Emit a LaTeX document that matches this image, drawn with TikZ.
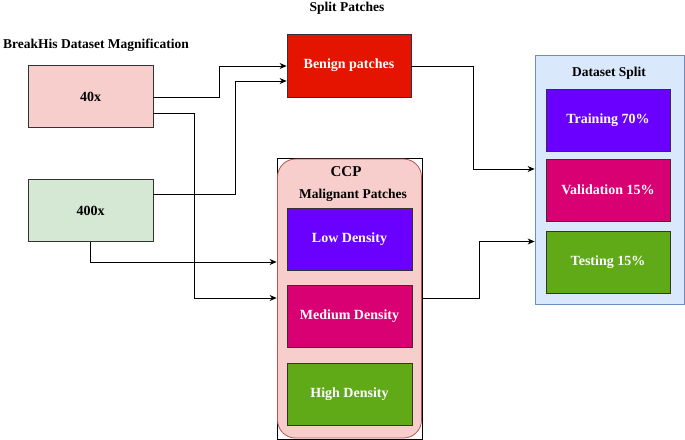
\documentclass[tikz,border=0pt]{standalone}
\usepackage{fontspec}
\setmainfont{Liberation Serif}
\usetikzlibrary{arrows.meta}
\definecolor{pinkfill}{HTML}{F8CECC}
\definecolor{pinkline}{HTML}{B85450}
\definecolor{greenfill}{HTML}{D5E8D4}
\definecolor{redfill}{HTML}{E51400}
\definecolor{purplefill}{HTML}{6A00FF}
\definecolor{magentafill}{HTML}{D80073}
\definecolor{limefill}{HTML}{60A917}
\definecolor{bluefill}{HTML}{DAE8FC}
\definecolor{blueline}{HTML}{6C8EBF}
\definecolor{edgegray}{HTML}{333333}
\tikzset{
  box/.style={draw=edgegray, line width=0.8pt, minimum width=125pt, minimum height=62pt, inner sep=0pt,
    font=\fontsize{14}{16}\selectfont\bfseries},
  wbox/.style={box, text=white},
  title/.style={font=\fontsize{13.5}{16}\selectfont\bfseries, inner sep=0pt},
  arr/.style={draw=black, line width=0.8pt, -{Stealth[length=7pt,width=6pt]}},
  ln/.style={draw=black, line width=0.8pt}
}
\begin{document}
\begin{tikzpicture}[x=1pt,y=-1pt]
\useasboundingbox (0,0) rectangle (685,439);
% titles
\node[title] (tsplit) at (347,8) {Split Patches};
\node[title, anchor=west] (tbreak) at (3,45) {BreakHis Dataset Magnification};
% inputs
\node[box, fill=pinkfill] (n40) at (90.5,96.5) {40x};
\node[box, fill=greenfill] (n400) at (90.5,210.5) {400x};
% benign
\node[wbox, fill=redfill, minimum width=124pt, minimum height=63pt] (benign) at (349,65.5) {Benign patches};
% CCP container
\node[draw=black, line width=0.8pt, minimum width=145pt, minimum height=281pt, inner sep=0pt] (ccpframe) at (349.5,298.5) {};
\node[draw=pinkline, fill=pinkfill, line width=0.8pt, rounded corners=18pt, minimum width=144pt, minimum height=279pt, inner sep=0pt] (ccp) at (349.5,298.5) {};
\node[title, font=\fontsize{15}{17}\selectfont\bfseries] (tccp) at (346,171.5) {CCP};
\node[title] (tmal) at (353,195) {Malignant Patches};
\node[wbox, fill=purplefill] (low) at (349.5,239) {Low Density};
\node[wbox, fill=magentafill] (med) at (349.5,316) {Medium Density};
\node[wbox, fill=limefill] (high) at (349.5,394.5) {High Density};
% Dataset split container
\node[draw=blueline, fill=bluefill, line width=0.8pt, minimum width=149pt, minimum height=249pt, inner sep=0pt] (split) at (609.5,179.5) {};
\node[title] (tds) at (609,73) {Dataset Split};
\node[wbox, fill=purplefill, minimum width=124pt] (train) at (608,120) {Training 70\%};
\node[wbox, fill=magentafill, minimum width=124pt] (val) at (608,190) {Validation 15\%};
\node[wbox, fill=limefill, minimum width=124pt] (test) at (608,262) {Testing 15\%};
% connectors
\draw[arr] (n40.east |- 0,97) -| (219,66) -- (benign.west |- 0,66);
\draw[arr] (n400.east |- 0,194.5) -| (235.5,81) -- (benign.west |- 0,81);
\draw[arr] (n40.east |- 0,113) -| (194,298) -- (ccpframe.west |- 0,298);
\draw[arr] (n400.south -| 90.5,0) |- (ccpframe.west |- 0,262);
\draw[arr] (benign.east |- 0,66) -| (473,169) -- (split.west |- 0,169);
\draw[arr] (ccpframe.east |- 0,298) -| (479,241.5) -- (split.west |- 0,241.5);
\end{tikzpicture}
\end{document}
